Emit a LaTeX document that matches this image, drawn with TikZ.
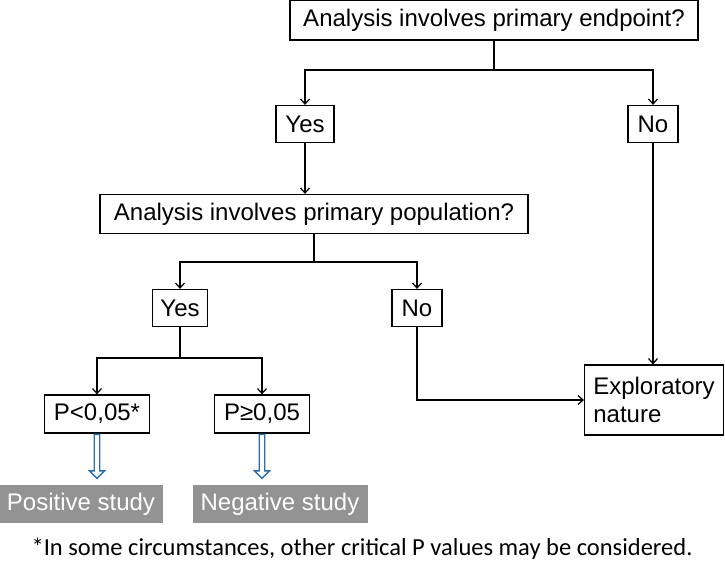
\documentclass[tikz,border=0pt]{standalone}
\usepackage{fontspec}
\setmainfont{Liberation Sans}
\newfontfamily\notefont{Carlito}
\usetikzlibrary{arrows.meta,shapes.arrows}
\definecolor{arrowblue}{HTML}{2E6DB0}

\begin{document}
\begin{tikzpicture}
         [x=1pt,y=-1pt,
          box/.style={draw,line width=1.2pt,inner sep=0pt,font=\fontsize{24}{28}\selectfont},
          res/.style={fill=gray!85,text=white,inner sep=0pt,minimum height=38pt,font=\fontsize{24}{28}\selectfont},
          link/.style={line width=1.2pt,-{Straight Barb[length=5pt,width=9pt]}},
          hollow/.style={single arrow,draw=arrowblue,line width=1.4pt,fill=white,rotate=-90,
             minimum height=44pt,minimum width=15pt,single arrow head extend=3pt,inner sep=1pt}]
         \useasboundingbox (0,0) rectangle (725,566);
         \node[box,minimum width=408pt,minimum height=40pt] (q1) at (494,20) {Analysis involves primary endpoint?};
         \node[box,minimum width=58pt,minimum height=37pt] (yes1) at (305,124) {Yes};
         \node[box,minimum width=50pt,minimum height=37pt] (no1) at (653,124) {No};
         \node[box,minimum width=428pt,minimum height=39pt] (q2) at (314,214) {Analysis involves primary population?};
         \node[box,minimum width=55pt,minimum height=37pt] (yes2) at (180,308) {Yes};
         \node[box,minimum width=50pt,minimum height=37pt] (no2) at (417,308) {No};
         \node[box,minimum width=105pt,minimum height=38pt] (plow) at (97,414) {P<0,05*};
         \node[box,minimum width=95pt,minimum height=38pt] (phigh) at (262,414) {P≥0,05};
         \node[box,minimum width=139pt,minimum height=70pt,align=left] (expl) at (654,400) {Exploratory\\nature};
         \node[res,minimum width=163pt] (pos) at (81,504) {Positive study};
         \node[res,minimum width=175pt] (neg) at (280,504) {Negative study};
         \node[font=\notefont\fontsize{24.5}{28}\selectfont,inner sep=0pt] (note) at (362,549) {*In some circumstances, other critical P values may be considered.};
         % tree connectors
         \draw[line width=1.2pt] (q1.south) -- (494,70) coordinate (s1);
         \draw[link] (s1) -| (yes1.north);
         \draw[link] (s1) -| (no1.north);
         \draw[link] (yes1) -- (yes1 |- q2.north);
         \draw[line width=1.2pt] (q2.south) -- (314,262) coordinate (s2);
         \draw[link] (s2) -| (yes2.north);
         \draw[link] (s2) -| (no2.north);
         \draw[line width=1.2pt] (yes2.south) -- (180,358) coordinate (s3);
         \draw[link] (s3) -| (plow.north);
         \draw[link] (s3) -| (phigh.north);
         \draw[link] (no2.south) |- (expl.west);
         \draw[link] (no1.south) -- (expl.north -| no1);
         % outcome arrows
         \node[hollow] (a1) at (97,455) {};
         \node[hollow] (a2) at (262,455) {};
       \end{tikzpicture}
\end{document}
